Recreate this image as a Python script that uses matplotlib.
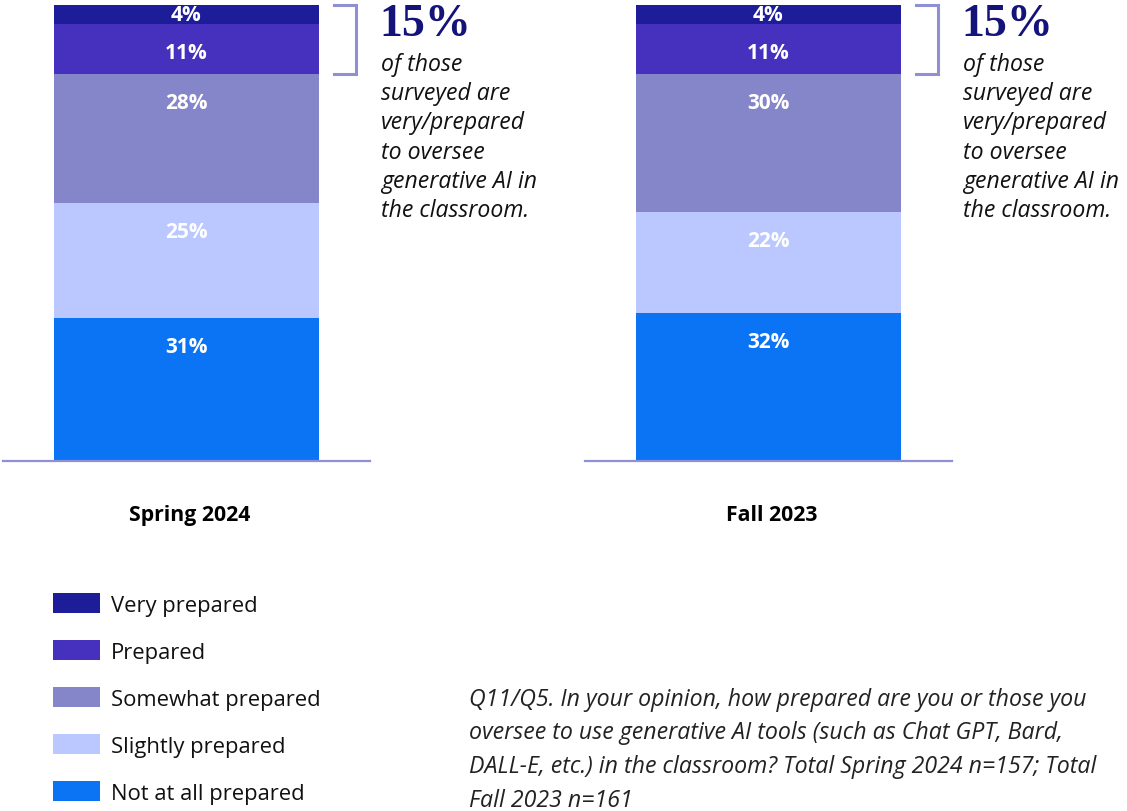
import matplotlib
matplotlib.use("Agg")
import matplotlib.pyplot as plt
from matplotlib.patches import Rectangle

plt.rcParams["font.family"] = ["Open Sans", "DejaVu Sans"]

periods = ["Spring 2024", "Fall 2023"]
levels = ["Not at all prepared", "Slightly prepared", "Somewhat prepared",
          "Prepared", "Very prepared"]
spring_2024 = [31, 25, 28, 11, 4]
fall_2023 = [32, 22, 30, 11, 4]
series = [spring_2024, fall_2023]
colors = ["#0a74f5", "#bac8ff", "#8585c9", "#4630be", "#1d1d9a"]
top_share = 15
callout_lines = ["of those", "surveyed are", "very/prepared", "to oversee",
                 "generative AI in", "the classroom."]
footnote_lines = [
    "Q11/Q5. In your opinion, how prepared are you or those you",
    "oversee to use generative AI tools (such as Chat GPT, Bard,",
    "DALL-E, etc.) in the classroom? Total Spring 2024 n=157; Total",
    "Fall 2023 n=161",
]

W, H = 1127, 812
fig = plt.figure(figsize=(W / 100, H / 100), dpi=100)


def fx(x):
    return x / W


def fy(y):
    return 1 - y / H


line_col = "#8f8fd3"
ax_lefts = [3, 585]
for left, name, vals in zip(ax_lefts, periods, series):
    ax = fig.add_axes([fx(left), fy(461.5), 367 / W, 460 / H])
    ax.set_xlim(-0.5, 0.5)
    ax.set_ylim(0, 100)
    bottom = 0
    for v, c in zip(vals, colors):
        ax.bar(0, v, bottom=bottom, width=0.724, color=c, linewidth=0)
        top = bottom + v
        ly = bottom + v / 2 if v < 6 else top - 6.2
        ax.text(0, ly, f"{v}%", ha="center", va="center", color="white",
                fontsize=15, fontweight="bold")
        bottom = top
    # bracket around the top two segments
    b0 = sum(vals[:3])
    b1 = sum(vals)
    ax.plot([0.402, 0.462, 0.462, 0.402], [b1, b1, b0, b0], color=line_col,
            lw=2.2, clip_on=False, solid_joinstyle="miter")
    ax.set_xticks([0.008], [name])
    ax.tick_params(axis="x", length=0, pad=31.5, labelsize=15.3)
    for lab in ax.get_xticklabels():
        lab.set_fontweight("bold")
    ax.set_yticks([])
    for s in ["top", "left", "right"]:
        ax.spines[s].set_visible(False)
    ax.spines["bottom"].set_color(line_col)
    ax.spines["bottom"].set_linewidth(1.6)
    ax.patch.set_alpha(0)

# callouts
for cx in [381, 963]:
    fig.text(fx(cx - 2), fy(25), f"{top_share}%", fontsize=33,
             fontweight="bold", color="#13137a", va="center", ha="left",
             family=["Liberation Serif", "DejaVu Serif"])
    for i, line in enumerate(callout_lines):
        fig.text(fx(cx), fy(65 + i * 29.2), line, fontsize=16.6,
                 style="italic", color="#111111", va="center", ha="left")

# legend
for i, (lab, c) in enumerate(zip(levels[::-1], colors[::-1])):
    yc = 604 + i * 47
    fig.patches.append(Rectangle((fx(53), fy(yc + 10)), 47 / W, 20 / H,
                                 transform=fig.transFigure, color=c, lw=0))
    fig.text(fx(111), fy(yc + 2.5), lab, fontsize=15.8, color="#111111",
             va="center", ha="left")

# footnote
for i, line in enumerate(footnote_lines):
    fig.text(fx(469), fy(699.5 + i * 33.7), line, fontsize=16.7,
             style="italic", color="#222222", va="center", ha="left")

fig.savefig("out.png", dpi=100)
